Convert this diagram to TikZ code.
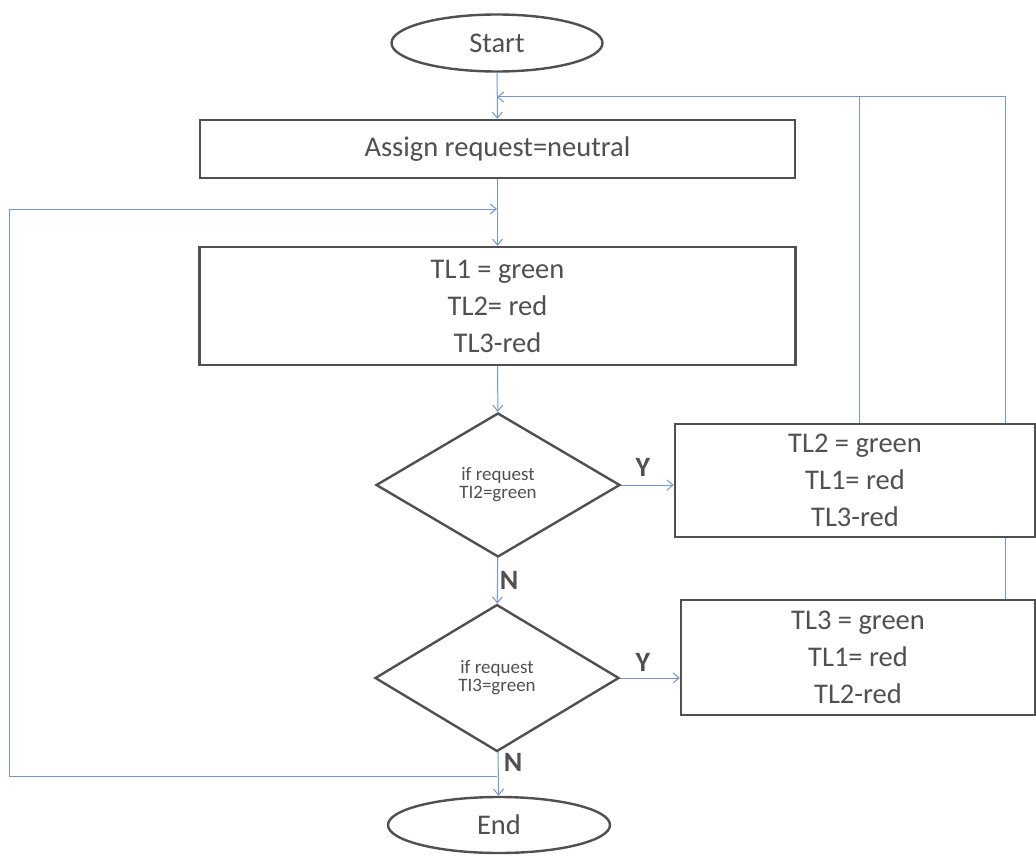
\documentclass[tikz,border=0pt]{standalone}
\usepackage{fontspec}
\setmainfont{Carlito}
\usetikzlibrary{shapes.geometric,arrows.meta,backgrounds}

\definecolor{flowblue}{RGB}{118,148,214}
\definecolor{boxgray}{RGB}{80,80,80}
\definecolor{textgray}{RGB}{80,80,80}

\tikzset{
  box/.style={draw=boxgray, line width=2.4pt, fill=white, rectangle,
    inner sep=0pt, align=center, text=textgray,
    font=\fontsize{28.5}{37}\selectfont},
  term/.style={box, ellipse},
  decision/.style={draw=boxgray, line width=2.4pt, fill=white, diamond,
    inner sep=0pt, align=center, text=textgray,
    font=\fontsize{19}{18}\selectfont},
  link/.style={draw=flowblue, line width=1pt},
  flow/.style={link, -{Straight Barb[length=6pt,width=10pt]}},
  answer/.style={text=textgray, font=\fontsize{28}{28}\selectfont\bfseries,
    inner sep=0pt}
}

\begin{document}
\begin{tikzpicture}[x=1pt,y=-1pt]
  \useasboundingbox (0,0) rectangle (1036,856);

  % main column
  \node[term, minimum width=211pt, minimum height=57pt] (start) at (497,43) {Start};
  \node[box, minimum width=595pt, minimum height=58pt] (assign) at (497.5,149) {Assign request=neutral};
  \node[box, minimum width=596pt, minimum height=118pt] (tl1) at (497.5,306)
    {TL1 = green\\TL2= red\\TL3-red};
  \node[decision, minimum width=244pt, minimum height=144pt] (d1) at (498,485)
    {if request\\TI2=green};
  \node[decision, minimum width=244pt, minimum height=147pt] (d2) at (497,678)
    {if request\\TI3=green};
  \node[term, minimum width=222pt, minimum height=56pt] (end) at (499,825) {End};

  % branch boxes
  \node[box, minimum width=360pt, minimum height=113pt] (tl2) at (855,480.5)
    {TL2 = green\\TL1= red\\TL3-red};
  \node[box, minimum width=354pt, minimum height=115pt] (tl3) at (858,657.5)
    {TL3 = green\\TL1= red\\TL2-red};

  % branch labels
  \node[answer] (y1) at (643,467) {Y};
  \node[answer] (n1) at (509,580) {N};
  \node[answer] (y2) at (643,662) {Y};
  \node[answer] (n2) at (513,762) {N};

  % routing points
  \coordinate (m0) at (497,97);
  \coordinate (m1) at (497,209);
  \coordinate (r1) at (859,97);
  \coordinate (r2) at (1005,97);
  \coordinate (j1) at (497,776);
  \coordinate (lb) at (9,776);
  \coordinate (lt) at (9,209);

  \begin{pgfonlayer}{background}
    \fill[white] (0,0) rectangle (1036,856);
    \draw[flow] (start) -- (assign);
    \draw[flow] (assign) -- (tl1);
    \draw[flow] (tl1) -- (d1);
    \draw[flow] (d1) -- (d2);
    \draw[flow] (d2) -- (end);
    \draw[flow] (d1.east) -- (d1.east -| tl2.west);
    \draw[flow] (d2.east) -- (d2.east -| tl3.west);
    % return paths to the top
    \draw[flow] (r2 |- tl3.north) -- (r2) -- (m0);
    \draw[link] (r1 |- tl2.north) -- (r1);
    % loop back from the last decision
    \draw[flow] (j1) -- (lb) -- (lt) -- (m1);
  \end{pgfonlayer}
\end{tikzpicture}
\end{document}
